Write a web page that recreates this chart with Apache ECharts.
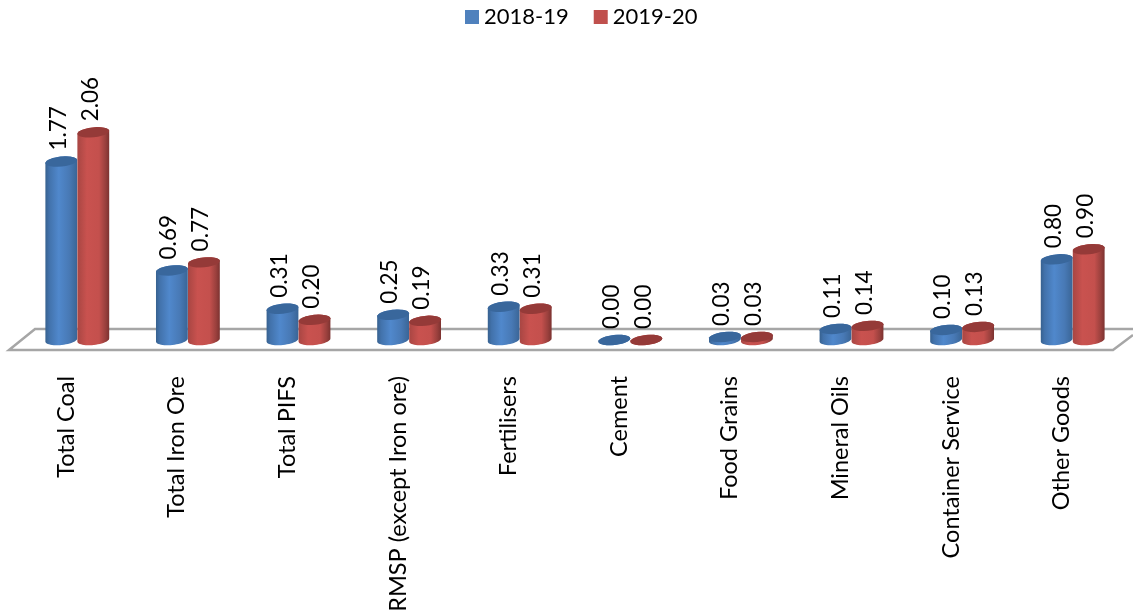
<!DOCTYPE html>
<html>
<head>
<meta charset="utf-8">
<style>html,body{margin:0;padding:0;background:#fff;overflow:hidden}#main{width:1133px;height:616px}</style>
<script src="https://cdn.jsdelivr.net/npm/echarts@6/dist/echarts.min.js"></script>
</head>
<body>
<div id="main"></div>
<script>
const categories = ["Total Coal", "Total Iron Ore", "Total PIFS", "RMSP (except Iron ore)", "Fertilisers", "Cement", "Food Grains", "Mineral Oils", "Container Service", "Other Goods"];
const values1819 = [1.77, 0.69, 0.31, 0.25, 0.33, 0.00, 0.03, 0.11, 0.10, 0.80];
const values1920 = [2.06, 0.77, 0.20, 0.19, 0.31, 0.00, 0.03, 0.14, 0.13, 0.90];

const fontName = "Lato";
const tilt = 6 * Math.PI / 180;
const rx = 16, ry = 5;

// sampled points on a tilted ellipse, from angle a to angle b
const arcPoints = (cx, cy, a, b) => {
    let pts = [];
    for (let i = 0; i <= 24; i++) {
        let t = a + (b - a) * i / 24;
        let ex = rx * Math.cos(t), ey = ry * Math.sin(t);
        pts.push([cx + ex * Math.cos(tilt) + ey * Math.sin(tilt), cy - ex * Math.sin(tilt) + ey * Math.cos(tilt)]);
    }
    return pts;
};

const sideGradient = (stops) => new echarts.graphic.LinearGradient(0, 0, 1, 0,
    stops.map(s => ({offset: s[0], color: s[1]})));

const looks = [
    {
        body: sideGradient([[0, "#37618f"], [0.12, "#4272ab"], [0.42, "#5088cc"], [0.75, "#4879b5"], [1, "#3a6596"]]),
        top: "#39679c",
        dx: -16
    },
    {
        body: sideGradient([[0, "#a84643"], [0.3, "#c9524f"], [0.68, "#c4504d"], [0.88, "#9a403d"], [1, "#7c3230"]]),
        top: "#953a38",
        dx: 16
    }
];

const renderCylinder = function(params, api) {
    let look = looks[params.seriesIndex];
    let idx = api.value(0), val = api.value(1);
    let base = api.coord([idx, 0]), head = api.coord([idx, val]);
    let cx = base[0] + look.dx;
    let side = arcPoints(cx, base[1], 0, Math.PI).concat(arcPoints(cx, head[1], Math.PI, 2 * Math.PI));
    return {
        type: "group",
        children: [{
            type: "polygon",
            shape: {points: side},
            style: {fill: look.body}
        }, {
            type: "polygon",
            shape: {points: arcPoints(cx, head[1], 0, 2 * Math.PI)},
            style: {fill: look.top}
        }, {
            type: "text",
            x: cx - 3,
            y: head[1] - 11,
            rotation: Math.PI / 2,
            style: {
                text: val.toFixed(2),
                fill: "#000",
                font: "22.5px " + fontName,
                textAlign: "left",
                textVerticalAlign: "middle"
            }
        }]
    };
};

const chart = echarts.init(document.getElementById("main"));
chart.setOption({
    animation: false,
    textStyle: {fontFamily: fontName},
    legend: {
        top: 1,
        left: 460,
        itemWidth: 14,
        itemHeight: 14,
        itemGap: 25,
        icon: "rect",
        textStyle: {color: "#000", fontSize: 22, fontFamily: fontName},
        data: ["2018-19", "2019-20"]
    },
    grid: {left: 22, top: 88, width: 1106, height: 252},
    xAxis: {
        type: "category",
        data: categories,
        axisLine: {show: false},
        axisTick: {show: false},
        axisLabel: {
            interval: 0,
            rotate: 90,
            margin: 36,
            color: "#000",
            fontSize: 23.5,
            fontFamily: fontName,
            verticalAlign: "bottom",
            lineHeight: 22
        }
    },
    yAxis: {type: "value", min: 0, max: 2.5, show: false},
    graphic: [{
        type: "polyline",
        z: 0,
        shape: {points: [[1133, 329], [35, 329], [9, 350], [1113, 350], [1133, 335]]},
        style: {stroke: "#a6a6a6", lineWidth: 2.5, fill: "none"}
    }],
    series: [{
        name: "2018-19",
        type: "custom",
        z: 2,
        itemStyle: {color: "#4f81bd"},
        renderItem: renderCylinder,
        encode: {x: 0, y: 1},
        data: values1819.map((v, i) => [i, v])
    }, {
        name: "2019-20",
        type: "custom",
        z: 3,
        itemStyle: {color: "#c0504d"},
        renderItem: renderCylinder,
        encode: {x: 0, y: 1},
        data: values1920.map((v, i) => [i, v])
    }]
});
</script>
</body>
</html>
